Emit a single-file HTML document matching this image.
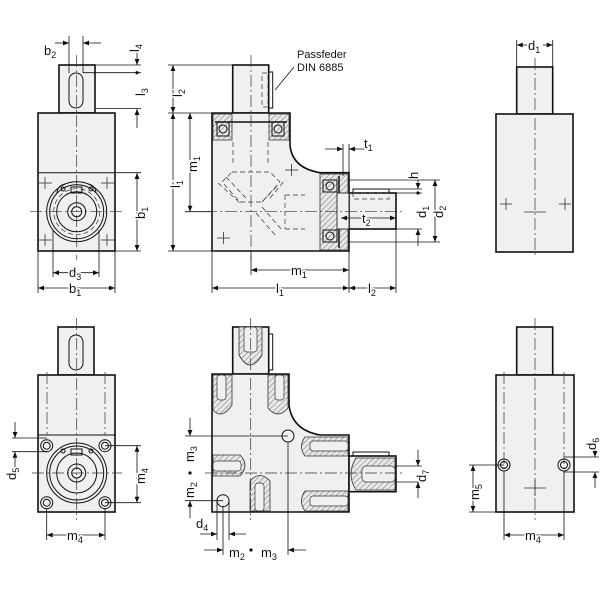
<!DOCTYPE html>
<html><head><meta charset="utf-8">
<style>
html,body{margin:0;padding:0;background:#fff;}
svg{display:block;}
text{font-family:"Liberation Sans",sans-serif;font-size:13px;fill:#111;paint-order:stroke;stroke:#fff;stroke-width:3px;stroke-linejoin:round;}
tspan.s{font-size:9px;}
.o{fill:#f0f0f0;stroke:#111;stroke-width:1.6;}
.ln{stroke:#111;stroke-width:0.8;fill:none;}
.th{stroke:#111;stroke-width:1;fill:none;}
.c{stroke:#333;stroke-width:0.7;fill:none;stroke-dasharray:12 3 2 3;}
.h{stroke:#333;stroke-width:0.7;fill:none;stroke-dasharray:5 3;}
.x{stroke:#333;stroke-width:0.8;}
.hat{fill:url(#hatch);stroke:#333;stroke-width:0.8;}
</style></head><body>
<svg width="600" height="600" viewBox="0 0 600 600" xmlns="http://www.w3.org/2000/svg">
<defs>
<marker id="a" viewBox="0 0 10 10" refX="10" refY="5" markerWidth="8" markerHeight="6" orient="auto-start-reverse" markerUnits="userSpaceOnUse"><path d="M0,1 L10,5 L0,9 z" fill="#111"/></marker>
<pattern id="hatch" width="4" height="4" patternUnits="userSpaceOnUse" patternTransform="rotate(45)"><rect width="4" height="4" fill="#e8e8e8"/><line x1="0" y1="0" x2="0" y2="4" stroke="#555" stroke-width="0.8"/></pattern>
</defs>

<!-- ============ TOP LEFT VIEW ============ -->
<rect class="o" x="59" y="65" width="36" height="48"/>
<rect class="o" x="38" y="113" width="77" height="138"/>
<line class="th" x1="38" y1="172.7" x2="115" y2="172.7"/>
<rect class="th" x="69" y="73" width="14" height="35" rx="7"/>
<line class="c" x1="76.7" y1="55" x2="76.7" y2="260"/>
<line class="c" x1="30" y1="211.7" x2="122" y2="211.7"/>
<circle class="th" cx="76.7" cy="211.7" r="30"/>
<circle class="th" cx="76.7" cy="211.7" r="27"/>
<circle class="th" cx="76.7" cy="211.7" r="20"/>
<circle class="h" cx="76.7" cy="211.7" r="23"/>
<circle class="th" cx="76.7" cy="211.7" r="9"/>
<circle class="th" cx="76.7" cy="211.7" r="5"/>
<rect class="th" x="71" y="187" width="11" height="6" fill="#f0f0f0"/>
<circle class="th" cx="63" cy="189" r="2"/><circle class="th" cx="91" cy="189" r="2"/>
<path class="th" d="M57,193 A9,9 0 0 1 66,184 M96,193 A9,9 0 0 0 88,184"/>
<g class="x"><line x1="39" y1="183" x2="52" y2="183"/><line x1="45" y1="177" x2="45" y2="189"/>
<line x1="101" y1="183" x2="114" y2="183"/><line x1="107" y1="177" x2="107" y2="189"/>
<line x1="39" y1="240" x2="52" y2="240"/><line x1="45" y1="234" x2="45" y2="246"/>
<line x1="101" y1="240" x2="114" y2="240"/><line x1="107" y1="234" x2="107" y2="246"/></g>
<!-- dims -->
<line class="ln" x1="69" y1="36" x2="69" y2="73"/><line class="ln" x1="83" y1="36" x2="83" y2="73"/>
<line class="ln" x1="55" y1="43" x2="69" y2="43" marker-end="url(#a)"/><line class="ln" x1="101" y1="43" x2="83" y2="43" marker-end="url(#a)"/>
<text x="44" y="55">b<tspan class="s" dy="3">2</tspan></text>
<line class="ln" x1="95" y1="65" x2="141" y2="65"/><line class="ln" x1="83" y1="72.7" x2="141" y2="72.7"/>
<line class="ln" x1="95" y1="108.5" x2="141" y2="108.5"/>
<line class="ln" x1="137" y1="48" x2="137" y2="65" marker-end="url(#a)"/>
<circle cx="137" cy="72.7" r="1.6" fill="#111"/>
<line class="ln" x1="137" y1="128" x2="137" y2="109" marker-end="url(#a)"/>
<text transform="translate(139,52) rotate(-90)">l<tspan class="s" dy="3">4</tspan></text>
<text transform="translate(145,96) rotate(-90)">l<tspan class="s" dy="3">3</tspan></text>
<line class="ln" x1="115" y1="172.7" x2="141" y2="172.7"/><line class="ln" x1="115" y1="251" x2="141" y2="251"/>
<line class="ln" x1="137" y1="211" x2="137" y2="173" marker-end="url(#a)"/><line class="ln" x1="137" y1="212" x2="137" y2="251" marker-end="url(#a)"/>
<text transform="translate(145,219) rotate(-90)">b<tspan class="s" dy="3">1</tspan></text>
<line class="ln" x1="53" y1="230" x2="53" y2="277"/><line class="ln" x1="99" y1="230" x2="99" y2="277"/>
<line class="ln" x1="76" y1="272.7" x2="53" y2="272.7" marker-end="url(#a)"/><line class="ln" x1="77" y1="272.7" x2="99" y2="272.7" marker-end="url(#a)"/>
<text x="69" y="277">d<tspan class="s" dy="3">3</tspan></text>
<line class="ln" x1="38" y1="251" x2="38" y2="293"/><line class="ln" x1="115" y1="251" x2="115" y2="293"/>
<line class="ln" x1="76" y1="288" x2="38" y2="288" marker-end="url(#a)"/><line class="ln" x1="77" y1="288" x2="115" y2="288" marker-end="url(#a)"/>
<text x="69" y="293">b<tspan class="s" dy="3">1</tspan></text>

<!-- ============ TOP MIDDLE VIEW ============ -->
<rect class="o" x="232.7" y="65" width="36" height="48"/>
<rect class="th" x="268.7" y="72" width="4" height="36" fill="#f0f0f0"/>
<rect class="h" x="262" y="73" width="6" height="34"/>
<path class="o" d="M212,113 L290,113 L290,145 Q292,168 320,172.7 L349,172.7 L349,251 L212,251 Z"/>
<rect class="o" x="349" y="193" width="47" height="36"/>
<rect class="th" x="353" y="189" width="36" height="4" fill="#f0f0f0"/>
<rect class="h" x="353" y="193" width="36" height="6"/>
<!-- bearings top -->
<path class="hat" d="M213,114 L232,114 L232,140 L213,140 Z"/><path class="hat" d="M269,114 L289,114 L289,140 L269,140 Z"/>
<rect class="th" x="217" y="122" width="12" height="14" fill="#fff"/><circle class="th" cx="223" cy="129" r="4"/>
<rect class="th" x="272" y="122" width="12" height="14" fill="#fff"/><circle class="th" cx="278" cy="129" r="4"/>
<line x1="215" y1="122" x2="287" y2="122" stroke="#111" stroke-width="1.5"/>
<!-- bearings right -->
<path class="hat" d="M320,174 L348,174 L348,250 L320,250 Z"/>
<rect class="th" x="323" y="180" width="14" height="12" fill="#fff"/><circle class="th" cx="330" cy="186" r="4"/>
<rect class="th" x="323" y="230" width="14" height="12" fill="#fff"/><circle class="th" cx="330" cy="236" r="4"/>
<line x1="339" y1="176" x2="339" y2="248" stroke="#111" stroke-width="1.5"/>
<rect class="o" x="337" y="193" width="12" height="36" style="stroke-width:0.8"/>
<!-- gears hidden -->
<g class="h">
<line x1="233" y1="163" x2="233" y2="140"/><line x1="268" y1="163" x2="268" y2="140"/>
<path d="M232,172 L270,172 L280,182 L262,202 L240,202 L222,182 Z"/>
<path d="M218,183 L240,203 M226,177 L246,198 M270,198 L285,180 M262,202 L278,185"/>
<path d="M262,207 L282,230 M256,213 L276,236"/>
<line x1="285" y1="195" x2="305" y2="195"/><line x1="285" y1="229" x2="305" y2="229"/>
<line x1="285" y1="195" x2="285" y2="229"/>
</g>
<line class="c" x1="251" y1="55" x2="251" y2="260"/>
<line class="c" x1="205" y1="211.7" x2="402" y2="211.7"/>
<g class="x"><line x1="285" y1="170" x2="298" y2="170"/><line x1="291.5" y1="164" x2="291.5" y2="176"/>
<line x1="217" y1="238" x2="230" y2="238"/><line x1="223.5" y1="232" x2="223.5" y2="244"/></g>
<!-- Passfeder -->
<line class="ln" x1="275" y1="90" x2="294" y2="67"/>
<text x="297" y="58" style="font-size:11px">Passfeder</text>
<text x="297" y="71" style="font-size:11px">DIN 6885</text>
<!-- dims -->
<line class="ln" x1="168" y1="65" x2="232" y2="65"/><line class="ln" x1="168" y1="113" x2="212" y2="113"/><line class="ln" x1="168" y1="251" x2="212" y2="251"/>
<line class="ln" x1="173" y1="89" x2="173" y2="65" marker-end="url(#a)"/><line class="ln" x1="173" y1="90" x2="173" y2="113" marker-end="url(#a)"/>
<text transform="translate(182,97) rotate(-90)">l<tspan class="s" dy="3">2</tspan></text>
<line class="ln" x1="173" y1="180" x2="173" y2="113" marker-end="url(#a)"/><line class="ln" x1="173" y1="182" x2="173" y2="251" marker-end="url(#a)"/>
<text transform="translate(180,188) rotate(-90)">l<tspan class="s" dy="3">1</tspan></text>
<line class="ln" x1="185" y1="211.7" x2="212" y2="211.7"/>
<line class="ln" x1="190" y1="160" x2="190" y2="113" marker-end="url(#a)"/><line class="ln" x1="190" y1="162" x2="190" y2="211.7" marker-end="url(#a)"/>
<text transform="translate(197,172) rotate(-90)">m<tspan class="s" dy="3">1</tspan></text>
<line class="ln" x1="212" y1="251" x2="212" y2="293"/><line class="ln" x1="251" y1="251" x2="251" y2="275"/>
<line class="ln" x1="349" y1="251" x2="349" y2="293"/><line class="ln" x1="396" y1="229" x2="396" y2="293"/>
<line class="ln" x1="300" y1="270" x2="251" y2="270" marker-end="url(#a)"/><line class="ln" x1="301" y1="270" x2="349" y2="270" marker-end="url(#a)"/>
<text x="291" y="275">m<tspan class="s" dy="3">1</tspan></text>
<line class="ln" x1="280" y1="288" x2="212" y2="288" marker-end="url(#a)"/><line class="ln" x1="281" y1="288" x2="349" y2="288" marker-end="url(#a)"/>
<text x="276" y="293">l<tspan class="s" dy="3">1</tspan></text>
<line class="ln" x1="372" y1="288" x2="349" y2="288" marker-end="url(#a)"/><line class="ln" x1="373" y1="288" x2="396" y2="288" marker-end="url(#a)"/>
<text x="368" y="293">l<tspan class="s" dy="3">2</tspan></text>
<line class="ln" x1="343" y1="144" x2="343" y2="176"/><line class="ln" x1="349" y1="144" x2="349" y2="173"/>
<line class="ln" x1="325" y1="149" x2="343" y2="149" marker-end="url(#a)"/><line class="ln" x1="367" y1="149" x2="349" y2="149" marker-end="url(#a)"/>
<text x="364" y="148">t<tspan class="s" dy="3">1</tspan></text>
<line class="ln" x1="389" y1="189" x2="422" y2="189"/><line class="ln" x1="396" y1="193" x2="422" y2="193"/>
<line class="ln" x1="396" y1="229" x2="422" y2="229"/>
<line class="ln" x1="349" y1="180" x2="440" y2="180"/><line class="ln" x1="349" y1="242" x2="440" y2="242"/>
<line class="ln" x1="418" y1="172" x2="418" y2="189" marker-end="url(#a)"/>
<circle cx="418" cy="193" r="1.6" fill="#111"/>
<line class="ln" x1="418" y1="246" x2="418" y2="229" marker-end="url(#a)"/>
<text transform="translate(418,179) rotate(-90)">h</text>
<text transform="translate(426,218) rotate(-90)">d<tspan class="s" dy="3">1</tspan></text>
<line class="ln" x1="435" y1="210" x2="435" y2="180" marker-end="url(#a)"/><line class="ln" x1="435" y1="212" x2="435" y2="242" marker-end="url(#a)"/>
<text transform="translate(443,218) rotate(-90)">d<tspan class="s" dy="3">2</tspan></text>
<line class="ln" x1="365" y1="218" x2="341" y2="218" marker-end="url(#a)"/><line class="ln" x1="367" y1="218" x2="396" y2="218" marker-end="url(#a)"/>
<text x="362" y="223">t<tspan class="s" dy="3">2</tspan></text>

<!-- ============ TOP RIGHT VIEW ============ -->
<rect class="o" x="516.7" y="67" width="36" height="47"/>
<rect class="o" x="496" y="114" width="77" height="138"/>
<line class="c" x1="535" y1="58" x2="535" y2="258"/>
<g class="x"><line x1="500" y1="204" x2="512" y2="204"/><line x1="506" y1="198" x2="506" y2="210"/>
<line x1="559" y1="204" x2="571" y2="204"/><line x1="565" y1="198" x2="565" y2="210"/>
<line x1="524" y1="212" x2="546" y2="212"/></g>
<line class="ln" x1="516.7" y1="40" x2="516.7" y2="67"/><line class="ln" x1="552.7" y1="40" x2="552.7" y2="67"/>
<line class="ln" x1="527" y1="45" x2="516.7" y2="45" marker-end="url(#a)"/><line class="ln" x1="543" y1="45" x2="552.7" y2="45" marker-end="url(#a)"/>
<text x="528" y="50">d<tspan class="s" dy="3">1</tspan></text>

<!-- ============ BOTTOM LEFT VIEW ============ -->
<rect class="o" x="58" y="327" width="36" height="48"/>
<rect class="o" x="38" y="375" width="77" height="137"/>
<line class="th" x1="38" y1="435" x2="115" y2="435"/>
<rect class="th" x="69" y="335" width="14" height="35" rx="7"/>
<line class="c" x1="76.7" y1="318" x2="76.7" y2="520"/>
<line class="c" x1="47" y1="372" x2="47" y2="435"/><line class="c" x1="105" y1="372" x2="105" y2="435"/>
<line class="c" x1="32" y1="473" x2="122" y2="473"/>
<circle class="th" cx="76.7" cy="473" r="30"/>
<circle class="th" cx="76.7" cy="473" r="27"/>
<circle class="th" cx="76.7" cy="473" r="20"/>
<circle class="th" cx="76.7" cy="473" r="9"/>
<circle class="th" cx="76.7" cy="473" r="5"/>
<rect class="th" x="71" y="449" width="11" height="6" fill="#f0f0f0"/>
<circle class="th" cx="63" cy="451" r="2"/><circle class="th" cx="91" cy="451" r="2"/>
<g class="th"><circle cx="46.7" cy="445.7" r="6"/><circle cx="46.7" cy="445.7" r="3.5"/>
<circle cx="105" cy="445.7" r="6"/><circle cx="105" cy="445.7" r="3.5"/>
<circle cx="46.7" cy="502.7" r="6"/><circle cx="46.7" cy="502.7" r="3.5"/>
<circle cx="105" cy="502.7" r="6"/><circle cx="105" cy="502.7" r="3.5"/></g>
<line class="ln" x1="12" y1="438" x2="47" y2="438"/><line class="ln" x1="12" y1="451.7" x2="47" y2="451.7"/>
<line class="ln" x1="15" y1="422" x2="15" y2="438" marker-end="url(#a)"/><line class="ln" x1="15" y1="468" x2="15" y2="451.7" marker-end="url(#a)"/>
<text transform="translate(16,480) rotate(-90)">d<tspan class="s" dy="3">5</tspan></text>
<line class="ln" x1="105" y1="445.7" x2="141" y2="445.7"/><line class="ln" x1="105" y1="502.7" x2="141" y2="502.7"/>
<line class="ln" x1="137" y1="473" x2="137" y2="445.7" marker-end="url(#a)"/><line class="ln" x1="137" y1="474" x2="137" y2="502.7" marker-end="url(#a)"/>
<text transform="translate(145,484) rotate(-90)">m<tspan class="s" dy="3">4</tspan></text>
<line class="ln" x1="46.7" y1="508" x2="46.7" y2="540"/><line class="ln" x1="105" y1="508" x2="105" y2="540"/>
<line class="ln" x1="75" y1="535" x2="46.7" y2="535" marker-end="url(#a)"/><line class="ln" x1="77" y1="535" x2="105" y2="535" marker-end="url(#a)"/>
<text x="67" y="540">m<tspan class="s" dy="3">4</tspan></text>

<!-- ============ BOTTOM MIDDLE VIEW ============ -->
<rect class="o" x="232.7" y="327" width="36" height="47"/>
<rect class="th" x="268.7" y="334" width="4" height="36" fill="#f0f0f0"/>
<path class="o" d="M212,374 L289,374 L289,405 Q292,430 320,435 L349,435 L349,512 L212,512 Z"/>
<rect class="o" x="349" y="456" width="47" height="35.7"/>
<rect class="th" x="353" y="452" width="36" height="4" fill="#f0f0f0"/>
<!-- hatched tapped holes -->
<path class="hat" d="M239,327 L262,327 L262,355 Q250,375 239,355 Z"/><rect x="244" y="327" width="13" height="25" rx="3" fill="#f0f0f0" stroke="#333" stroke-width="0.7"/>
<path class="hat" d="M213,375 L232,375 L232,405 Q222,420 213,410 Z"/><rect x="217" y="375" width="9" height="25" rx="3" fill="#f0f0f0" stroke="#333" stroke-width="0.7"/>
<path class="hat" d="M268,375 L288,375 L288,408 Q278,420 268,408 Z"/><rect x="275" y="375" width="9" height="25" rx="3" fill="#f0f0f0" stroke="#333" stroke-width="0.7"/>
<path class="hat" d="M213,455 L240,455 Q250,465 240,476 L213,476 Z"/><rect x="213" y="461" width="28" height="10" rx="3" fill="#f0f0f0" stroke="#333" stroke-width="0.7"/>
<path class="hat" d="M250,481 Q260,470 270,481 L270,511 L250,511 Z"/><rect x="255" y="483" width="9" height="28" rx="3" fill="#f0f0f0" stroke="#333" stroke-width="0.7"/>
<path class="hat" d="M305,437 L348,437 L348,456 L305,456 Q298,447 305,437 Z"/><rect x="310" y="441" width="38" height="10" rx="3" fill="#f0f0f0" stroke="#333" stroke-width="0.7"/>
<path class="hat" d="M305,491 L348,491 L348,511 L305,511 Q298,501 305,491 Z"/><rect x="310" y="496" width="38" height="10" rx="3" fill="#f0f0f0" stroke="#333" stroke-width="0.7"/>
<path class="hat" d="M356,458 L395,458 L395,490 L356,490 Q346,474 356,458 Z"/><rect x="362" y="466" width="33" height="16" rx="4" fill="#f0f0f0" stroke="#333" stroke-width="0.7"/>
<line class="c" x1="250.7" y1="318" x2="250.7" y2="520"/>
<line class="c" x1="205" y1="473" x2="402" y2="473"/>
<circle class="th" cx="288" cy="436" r="6" fill="#f0f0f0"/>
<circle class="th" cx="223" cy="500.7" r="6" fill="#f0f0f0"/>
<line class="ln" x1="185" y1="436" x2="288" y2="436"/><line class="ln" x1="185" y1="500.7" x2="223" y2="500.7"/>
<line class="ln" x1="190" y1="418" x2="190" y2="436" marker-end="url(#a)"/>
<circle cx="190" cy="473" r="1.6" fill="#111"/>
<line class="ln" x1="190" y1="518" x2="190" y2="500.7" marker-end="url(#a)"/>
<text transform="translate(194,462) rotate(-90)">m<tspan class="s" dy="3">3</tspan></text>
<text transform="translate(194,498) rotate(-90)">m<tspan class="s" dy="3">2</tspan></text>
<line class="ln" x1="217" y1="500" x2="217" y2="540"/><line class="ln" x1="229" y1="500" x2="229" y2="540"/>
<line class="ln" x1="200" y1="534" x2="217" y2="534" marker-end="url(#a)"/><line class="ln" x1="246" y1="534" x2="229" y2="534" marker-end="url(#a)"/>
<text x="196" y="528">d<tspan class="s" dy="3">4</tspan></text>
<line class="ln" x1="223" y1="506" x2="223" y2="555"/><line class="ln" x1="288" y1="442" x2="288" y2="555"/>
<line class="ln" x1="204" y1="550" x2="223" y2="550" marker-end="url(#a)"/><line class="ln" x1="306" y1="550" x2="288" y2="550" marker-end="url(#a)"/>
<circle cx="251" cy="550" r="1.6" fill="#111"/>
<text x="229" y="557">m<tspan class="s" dy="3">2</tspan></text>
<text x="261" y="557">m<tspan class="s" dy="3">3</tspan></text>
<line class="ln" x1="396" y1="466" x2="422" y2="466"/><line class="ln" x1="396" y1="482" x2="422" y2="482"/>
<line class="ln" x1="418" y1="450" x2="418" y2="466" marker-end="url(#a)"/><line class="ln" x1="418" y1="498" x2="418" y2="482" marker-end="url(#a)"/>
<text transform="translate(426,482) rotate(-90)">d<tspan class="s" dy="3">7</tspan></text>

<!-- ============ BOTTOM RIGHT VIEW ============ -->
<rect class="o" x="516.7" y="327" width="36" height="48"/>
<rect class="o" x="496" y="375" width="78" height="137"/>
<line class="c" x1="535" y1="318" x2="535" y2="520"/>
<line class="c" x1="504" y1="372" x2="504" y2="470"/><line class="c" x1="564" y1="372" x2="564" y2="470"/>
<g class="x"><line x1="524" y1="488" x2="546" y2="488"/><line x1="535" y1="480" x2="535" y2="496"/></g>
<g class="th"><circle cx="504" cy="465" r="6"/><circle cx="504" cy="465" r="3.5"/>
<circle cx="564" cy="465" r="6"/><circle cx="564" cy="465" r="3.5"/></g>
<line class="ln" x1="469" y1="465" x2="504" y2="465"/><line class="ln" x1="469" y1="512" x2="496" y2="512"/>
<line class="ln" x1="473" y1="488" x2="473" y2="465" marker-end="url(#a)"/><line class="ln" x1="473" y1="489" x2="473" y2="512" marker-end="url(#a)"/>
<text transform="translate(479,500) rotate(-90)">m<tspan class="s" dy="3">5</tspan></text>
<line class="ln" x1="564" y1="457" x2="599" y2="457"/><line class="ln" x1="564" y1="472" x2="599" y2="472"/>
<line class="ln" x1="595" y1="441" x2="595" y2="457" marker-end="url(#a)"/><line class="ln" x1="595" y1="488" x2="595" y2="472" marker-end="url(#a)"/>
<text transform="translate(596,450) rotate(-90)">d<tspan class="s" dy="3">6</tspan></text>
<line class="ln" x1="504" y1="471" x2="504" y2="540"/><line class="ln" x1="564" y1="471" x2="564" y2="540"/>
<line class="ln" x1="533" y1="535" x2="504" y2="535" marker-end="url(#a)"/><line class="ln" x1="535" y1="535" x2="564" y2="535" marker-end="url(#a)"/>
<text x="525" y="540">m<tspan class="s" dy="3">4</tspan></text>
</svg>
</body></html>
